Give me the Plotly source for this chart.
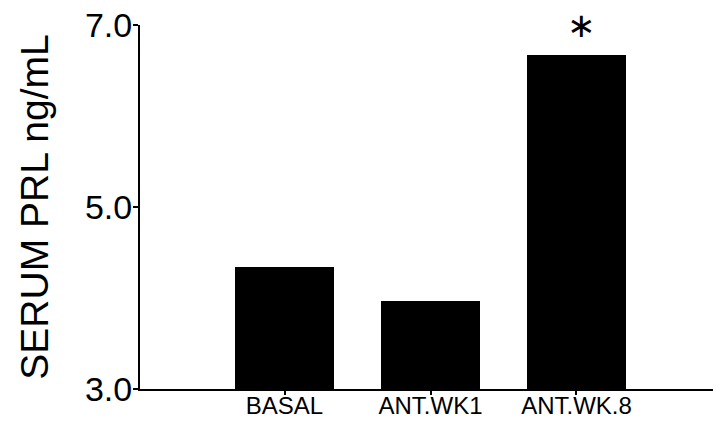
import plotly.graph_objects as go

categories = ["BASAL", "ANT.WK1", "ANT.WK.8"]
values = [4.34, 3.97, 6.67]
marks = ["", "", "∗"]
y_tickvals = [3, 5, 7]
y_ticktext = ["3.0", "5.0", "7.0"]

fig = go.Figure()
fig.add_trace(go.Bar(
    x=list(range(len(categories))),
    y=values,
    width=0.68,
    marker=dict(color="black", line=dict(width=0)),
    showlegend=False,
))

for i, m in enumerate(marks):
    if m:
        fig.add_annotation(
            x=i, y=values[i], xref="x", yref="y",
            text=m, showarrow=False, yanchor="bottom", yshift=8, xshift=5,
            font=dict(family="DejaVu Sans", size=34, color="black"),
        )

# page body has an 8px margin, so the figure is sized to fit the window
fig.update_layout(
    width=713, height=427,
    margin=dict(l=132, r=0, t=17, b=46, autoexpand=False),
    plot_bgcolor="white", paper_bgcolor="white",
    font=dict(family="Liberation Sans", color="black"),
    bargap=0,
)
fig.update_xaxes(
    automargin=False,
    range=[-0.99, 2.99],
    tickvals=list(range(len(categories))),
    ticktext=categories,
    tickfont=dict(size=24),
    ticklabelstandoff=-10,
    ticklabeloverflow="allow",
    showline=True, linecolor="black", linewidth=2,
    ticks="outside", ticklen=4, tickcolor="black", tickwidth=2,
    showgrid=False, zeroline=False,
)
fig.update_yaxes(
    automargin=False,
    range=[3, 7],
    tickvals=y_tickvals,
    ticktext=y_ticktext,
    tickfont=dict(size=34),
    ticklabelstandoff=-6,
    ticklabeloverflow="allow",
    showline=True, linecolor="black", linewidth=2,
    ticks="outside", ticklen=5, tickcolor="black", tickwidth=2,
    showgrid=False, zeroline=False,
    title=dict(text="SERUM PRL ng/mL", font=dict(size=39), standoff=24),
)

fig.write_html("out.html")
